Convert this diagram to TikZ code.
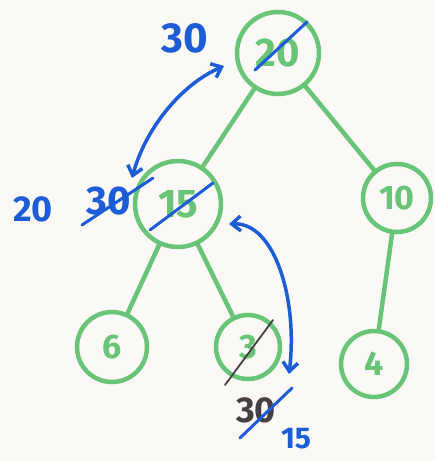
\documentclass[tikz,border=0pt]{standalone}
\usepackage{fontspec}
\setmainfont{Fira Sans}
\usetikzlibrary{arrows.meta,calc}
\definecolor{paper}{RGB}{251,249,246}
\definecolor{marker}{RGB}{104,196,118}
\definecolor{pen}{RGB}{28,92,214}
\definecolor{graphite}{RGB}{70,62,66}
\tikzset{
  heapnode/.style={draw=marker, line width=4.5pt, circle, minimum size=#1,
    inner sep=0pt, text=marker, font=\bfseries\fontsize{34}{34}\selectfont},
  heapnode/.default=70pt,
  treeedge/.style={draw=marker, line width=4.5pt, line cap=round},
  swap/.style={draw=pen, line width=3.5pt, line cap=round,
    {Straight Barb[length=9pt,width=15pt,line width=3.5pt]}-{Straight Barb[length=9pt,width=15pt,line width=3.5pt]}},
  strike/.style={line width=3pt, line cap=round},
  note/.style={text=pen, inner sep=0pt},
}
\begin{document}
\begin{tikzpicture}[x=1pt,y=-1pt]
  \fill[paper] (0,0) rectangle (435,461);
  \useasboundingbox (0,0) rectangle (435,461);

  % heap nodes
  \node[heapnode=82pt, font=\bfseries\fontsize{40}{40}\selectfont] (n20) at (278,53) {20};
  \node[heapnode=86pt, font=\bfseries\fontsize{40}{40}\selectfont] (n15) at (178,204) {15};
  \node[heapnode=68pt] (n10) at (397,198) {10};
  \node[heapnode=70pt] (n6) at (112,347) {6};
  \node[heapnode=64pt] (n3) at (248,347) {3};
  \node[heapnode=66pt] (n4) at (374,364) {4};

  % tree edges
  \path[treeedge] (n20) -- (n15);
  \path[treeedge] (n20) -- (n10);
  \path[treeedge] (n15) -- (n6);
  \path[treeedge] (n15) -- (n3);
  \path[treeedge] (n10) -- (n4);

  % strike-throughs on replaced keys
  \draw[strike, pen] ($(n20)+(-23,17)$) -- ($(n20)+(29,-31)$);
  \draw[strike, pen] ($(n15)+(-28,26)$) -- ($(n15)+(35,-21)$);
  \draw[strike, graphite, line width=1.8pt] ($(n3)+(-23,38)$) -- ($(n3)+(25,-27)$);

  % annotations
  \node[note, font=\bfseries\fontsize{42}{42}\selectfont] (t30a) at (185,38) {30};
  \node[note, font=\bfseries\fontsize{36}{36}\selectfont] (t20) at (33,209) {20};
  \node[note, font=\bfseries\fontsize{40}{40}\selectfont] (t30b) at (109,201) {30};
  \draw[strike, pen] ($(t30b)+(-27,24)$) -- ($(t30b)+(44,-23)$);
  \node[note, text=graphite, font=\bfseries\fontsize{36}{36}\selectfont] (t30c) at (256,410) {30};
  \draw[strike, pen] ($(t30c)+(-16,28)$) -- ($(t30c)+(36,-22)$);
  \node[note, font=\bfseries\fontsize{30}{30}\selectfont] (t15) at (296,439) {15};

  % swap arrows
  \coordinate (a1s) at (224,66);
  \coordinate (a1e) at (132,178);
  \draw[swap] (a1s) .. controls (180,85) and (145,130) .. (a1e);
  \coordinate (a2s) at (229,224);
  \coordinate (a2e) at (289,374);
  \draw[swap] (a2s) .. controls (275,222) and (298,300) .. (a2e);
\end{tikzpicture}
\end{document}
